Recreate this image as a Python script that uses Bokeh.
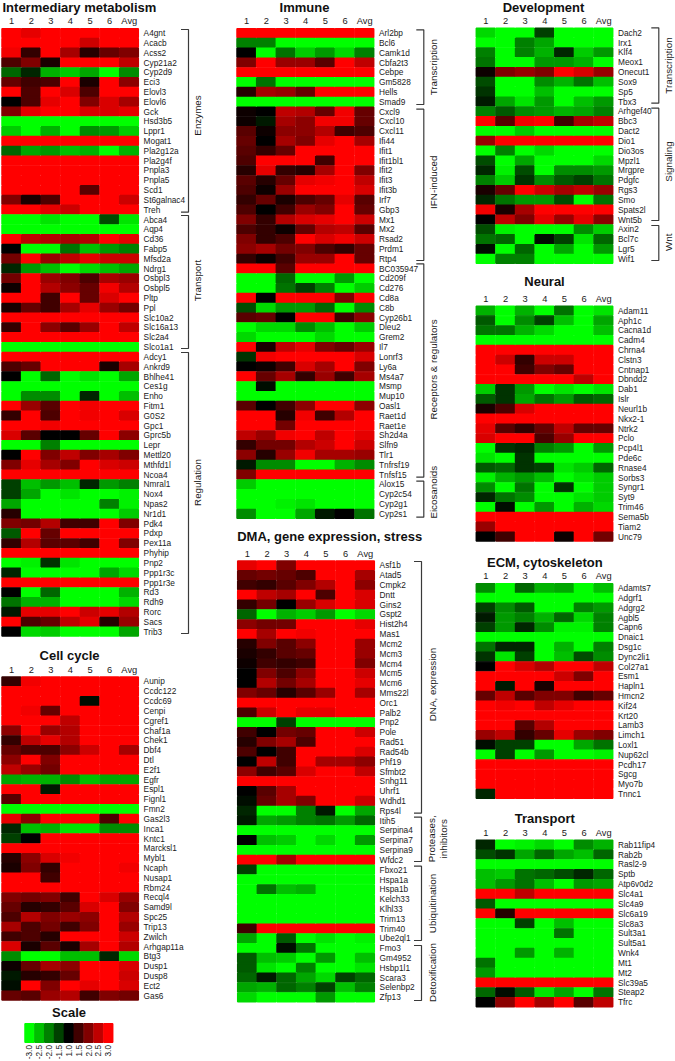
from bokeh.plotting import figure
from bokeh.embed import file_html
from bokeh.resources import INLINE
from bokeh.models import Range1d, ColumnDataSource, LinearColorMapper
from bokeh.core.properties import value
from bokeh.transform import transform
import math

columns = ["1", "2", "3", "4", "5", "6", "Avg"]

metabolism_genes = ["A4gnt","Acacb","Acss2","Cyp21a2","Cyp2d9","Eci3","Elovl3","Elovl6","Gck","Hsd3b5","Lppr1","Mogat1","Pla2g12a","Pla2g4f","Pnpla3","Pnpla5","Scd1","St6galnac4","Treh","Abca4","Aqp4","Cd36","Fabp5","Mfsd2a","Ndrg1","Osbpl3","Osbpl5","Pltp","Ppl","Slc10a2","Slc16a13","Slc2a4","Slco1a1","Adcy1","Ankrd9","Bhlhe41","Ces1g","Enho","Fitm1","G0S2","Gpc1","Gprc5b","Lepr","Mettl20","Mthfd1l","Ncoa4","Nmral1","Nox4","Npas2","Nr1d1","Pdk4","Pdxp","Pex11a","Phyhip","Pnp2","Ppp1r3c","Ppp1r3e","Rd3","Rdh9","Rorc","Sacs","Trib3"]
metabolism_values = [
[3,2.8,3,3,3,3,3],[3,3,3,3,2.6,3,3],[2.9,1.4,3,2.3,1.3,1.8,2.0],[1.6,2.0,1.2,3,3,3,2.5],[-1.8,-1.3,-2.4,-2.6,-2.3,-3,-2.1],
[1.8,1.5,1.6,3,1.2,3,2.1],[3,1.6,3,2.7,1.6,3,3],[1.0,1.6,2.8,3,2.0,2.7,2.3],[2.0,2.8,3,3,2.7,2.7,2.8],[-3,-3,-3,-3,-3,-3,-3],
[-2.6,-3,-2.4,-3,-2.1,-2.2,-2.6],[3,3,3,3,3,3,3],[-1.8,-2.3,-2.2,-2.5,-2.4,-3,-2.4],[3,3,3,3,3,3,3],[3,3,3,3,3,3,3],
[3,3,3,3,3,3,3],[3,3,3,3,1.7,3,3],[2.0,1.2,1.6,3,3,3,2.6],[3,3,2.8,2.6,3,3,3],[-3,-3,-2.8,-3,-3,-1.6,-2.8],
[-3,-3,-3,-3,-3,-3,-3],[3,2.5,2.4,2.3,2.4,3,2.8],[1.0,-3,-3,-1.9,-2.5,-2.2,-2.0],[1.9,3,2.2,2.5,2.8,2.6,2.6],[-1.3,-2.2,-2.5,-3,-2.7,-2.5,-2.3],
[1.9,3,2.2,2.0,1.6,2.3,2.2],[1.1,3,2.4,2.1,1.8,2.9,2.4],[3,3,1.5,3,1.8,2.7,3],[1.2,1.8,1.5,2.3,2.8,2.2,1.9],[3,3,3,3,3,3,3],
[1.4,3,2.1,1.7,2.2,3,2.5],[3,3,3,3,3,3,3],[-3,-3,-3,-3,-3,-3,-3],[3,3,3,3,3,3,3],[1.6,1.8,3,3,3,1.2,2.3],
[1.0,-3,-1.8,-3,-2.8,-3,-2.3],[-3,-3,-3,-3,-3,-3,-3],[-3,-2.1,-2.1,-3,-1.3,-3,-2.5],[3,2.2,1.7,3,2.9,3,3],[1.4,3,1.6,3,2.9,3,2.7],
[3,3,2.9,3,3,3,3],[2.7,1.7,1.0,1.0,1.8,3,2.1],[-3,-3,-2.0,-3,-3,-3,-3],[1,3,2,2.5,2,2.3,2],[2,2.8,2.3,2,3,2.7,2.6],
[3,3,3,3,3,3,3],[-1.5,-2.5,-2.2,-2.5,-1.3,-2.2,-2],[-1.5,-2.3,-3,-2.8,-3,-3,-2.9],[-2.3,-3,-3,-3,-3,-2,-2.9],[1.3,-3,-3,-3,-3,-3,-2.6],
[2,1.9,2.4,1.5,1.5,3,2],[-1.7,3,1.8,3,3,3,3],[1.4,2.4,1.7,1.7,1.5,3,2],[3,3,3,3,3,3,3],[-3,-2.9,-1.4,-2.8,-3,-3,-3],
[-1.3,-3,-3,-3,-3,-2.3,-2.7],[3,3,3,3,3,3,3],[1,-3,-1.8,-3,-3,-3,-2.4],[-1.9,-2.4,-2.4,-3,-3,-3,-2.7],[-1.2,2.8,2.8,3,2.6,2.8,2.4],
[3,1.6,1.8,2.5,2.8,1.3,2.2],[1,-2.7,-2.6,-3,-3,-3,-2.3],
]

cycle_genes = ["Aunip","Ccdc122","Ccdc69","Cenpi","Cgref1","Chaf1a","Chek1","Dbf4","Dtl","E2f1","Egfr","Espl1","Fignl1","Fmn2","Gas2l3","Inca1","Kntc1","Marcksl1","Mybl1","Ncaph","Nusap1","Rbm24","Recql4","Samd9l","Spc25","Trip13","Zwilch","Arhgap11a","Btg3","Dusp1","Dusp8","Ect2","Gas6"]
cycle_values = [
[1.4,2.9,3,3,3,3,3],[3,3,3,3,3,3,3],[3,3,3,3,-1.1,3,3],[3,2.9,1.8,3,3,3,3],[3,3,3,2.5,3,3,3],
[2.1,3,2.2,2.4,3,3,3],[1.4,2.5,2.8,2.4,3,3,3],[1.8,1.6,1.6,2.1,2.6,3,2.3],[2.1,3,2.0,3,3,3,3],[2.5,2.2,1.9,3,3,3,3],
[-2.3,-2.4,-2.4,-2.1,-2.5,-2.3,-2.3],[3,3,-1.2,3,3,3,3],[1.7,3,3,3,3,3,3],[-3,-3,-3,-3,-3,-3,-3],[2.8,2.1,3,3,3,1.6,3],
[-1.3,-2.5,-2.4,-2.8,-2.8,-2.1,-2.1],[-1.5,1,3,3,3,3,3],[3,3,3,3,3,3,3],[1.3,2.1,2.7,2.9,3,3,3],[1.2,2.0,1.4,3,3,3,2.9],
[3,3,1.5,3,3,3,3],[3,3,3,3,3,3,3],[2,1.9,2,1.5,3,2.7,2.2],[1.8,1.3,1.4,1.7,2.7,3,2],[1.6,2.4,2,2.2,2.1,3,2.4],
[2.3,1.6,1.9,1.5,2,3,2.2],[1.5,1.6,1.3,3,3,3,2.6],[2.7,1.2,1.7,1.2,2.3,3,2.4],[-2.1,-3,-3,-2.5,-2.5,-1.3,-2.7],[1.1,1.8,2.3,2.1,3,3,2.7],
[-1.2,1.3,1.4,1.8,3,3,2.6],[-1.1,3,2,3,2.8,3,2.7],[1.8,1.7,2.2,2.4,1.5,2,1.9],
]

immune_genes = ["Arl2bp","Bcl6","Camk1d","Cbfa2t3","Cebpe","Gm5828","Hells","Smad9","Cxcl9","Cxcl10","Cxcl11","Ifi44","Ifit1","Ifit1bl1","Ifit2","Ifit3","Ifit3b","Irf7","Gbp3","Mx1","Mx2","Rsad2","Prdm1","Rtp4","BC035947","Cd209f","Cd276","Cd8a","C8b","Cyp26b1","Dleu2","Grem2","Il7","Lonrf3","Ly6a","Ms4a7","Msmp","Mup10","Oasl1","Raet1d","Raet1e","Sh2d4a","Slfn9","Tlr1","Tnfrsf19","Tnfsf15","Alox15","Cyp2c54","Cyp2g1","Cyp2s1"]
immune_values = [
[3,3,3,3,3,3,3],[-2,-2,-3,-3,-3,-3,-3],[1,-3,-1.9,-2.6,-2.2,-2.7,-2],[2,3,2.2,2.2,1.7,3,2.5],[3,3,3,3,3,3,3],
[-3,-1.9,-3,-3,-3,-3,-3],[1.3,2.3,2.2,1.8,3,3,3],[-3,-3,-3,-3,-3,-3,-3],[1.1,1,2.5,2.4,1.8,2.9,1.8],[1.1,-1.2,2.3,2.1,2.9,2.9,1.8],
[1.7,1.1,2.1,2.1,2.4,1.5,1.6],[1.8,1,2.3,2,2.8,3,2.3],[1.7,1.4,1.8,3,3,3,3],[1.6,3,3,3,1.5,3,3],[1.3,2.8,1.4,1.3,2.3,3,2],
[1.7,1.3,1.8,2.8,2.9,3,2.5],[1.6,1.1,2.2,3,3,3,2.7],[1.4,1.8,1.2,1.6,1.8,2.8,1.7],[1.6,1,1.5,2.2,2,3,1.8],[2,1.4,2.4,2.7,2.8,3,2.6],
[1.6,1.4,1.1,1.8,2.4,2.5,1.7],[2,1.4,1.6,3,2.7,2.9,2.6],[2.1,2.3,1.9,2,1.6,1.4,1.8],[1.4,1.1,1.5,2.2,2.2,3,1.8],[3,3,1.7,3,3,3,3],
[-3,-3,-1.8,-3,-3,-2.2,-3],[-3,-3,-1.9,-1.5,-2,-3,-2.6],[3,1,3,3,3,2.0,3],[-1.6,-2.7,-2.2,-2.2,-1.8,-3,-2.1],[1.7,1.8,1,3,3,1.5,2.1],
[-3,-2.7,-2.7,-2.1,-2.5,-3,-2.6],[-2.7,-3,-3,-3,-2.7,-3,-3],[3,1.2,2.5,2.8,2,1.8,2.2],[-1.4,2.9,3,3,3,3,2.7],[1,1.1,1.5,2.7,2.3,3,2],
[3,1.8,2.3,1.4,2.2,1.5,2.3],[-3,-1.1,-3,-3,-3,-3,-3],[-3,-3,-3,-3,-3,-3,-3],[1.7,1,1.5,2.1,3,3,2.1],[3,3,1.3,2.9,1.5,2.4,3],
[3,3,1.9,3,3,3,3],[2.5,2.2,2.9,3,2.5,3,2.8],[1.4,1.9,1.9,2.4,2.6,3,2.6],[2.1,1.3,2.2,2.9,2.3,2.3,2.2],[-1.2,-2.1,-2.1,-3,-3,-2.4,-2.1],
[2,3,3,3,3,3,3],[-2.6,-3,-3,-3,-3,-3,-3],[-3,-3,-3,-3,-3,-3,-3],[-3,-3,-2.9,-2.8,-3,-3,-3],[-2.1,-3,-3,-2.3,-1.2,-1,-1.9],
]

stress_genes = ["Asf1b","Atad5","Cmpk2","Dntt","Gins2","Gspt2","Hist2h4","Mas1","Mcm2","Mcm3","Mcm4","Mcm5","Mcm6","Mms22l","Orc1","Palb2","Pnp2","Pole","Rad51","Rad54b","Phf19","Sfmbt2","Snhg11","Uhrf1","Wdhd1","Rps4l","Itih5","Serpina4","Serpina7","Serpina9","Wfdc2","Fbxo21","Hspa1a","Hspa1b","Kelch33","Klhl33","Trim13","Trim40","Ube2ql1","Fmo3","Gm4952","Hsbp1l1","Scara3","Selenbp2","Zfp13"]
stress_values = [
[2.8,3,2,3,3,3,3],[1.8,1.9,1.8,1.6,3,3,2.3],[1.5,1.4,1.7,2,2.4,3,2.1],[3,2.5,2.3,3,1.6,3,2.7],[1.4,1.9,1,2.2,2.7,3,2.7],
[-1.8,-3,-2.4,-2.6,-2.2,-3,-2.7],[2.1,1.9,1.9,3,3,3,2.8],[3,2.3,3,2.9,3,3,3],[1.3,2,1.7,2.1,3,3,2.2],[1.2,1.4,1.7,1.8,3,3,2.2],
[1.1,1.5,1.4,1.5,3,3,2],[1,2,1.6,2.1,3,3,2.6],[1,2.4,1.9,2.3,3,3,2.8],[2,1.8,1.3,1.7,2.2,3,2.3],[3,3,3,3,3,3,3],
[1.6,2.6,3,2.8,2.8,3,3],[-3,-3,-1.5,-3,-3,-3,-3],[1.5,1,1.9,1.8,3,3,2.6],[1.3,2,2.3,1.6,3,3,3],[1.6,-1.0,1.5,3,3,3,2.7],
[1,2.5,1.5,3,2.3,2.3,2.1],[2.1,1.5,1.7,2.7,3,3,2.5],[3,3,3,3,3,3,3],[1,1.7,2.3,3,3,3,3],[-1.1,1.8,2.3,2,3,3,2.6],
[-1.3,-3,-3,-2,-1.2,-3,-2.3],[-1.2,-2.3,-2.2,-2,-1.9,-2.2,-1.8],[-3,-3,-3,-3,-3,-3,-3],[-1,-2.5,-2.6,-3,-2.7,-3,-2.2],[-3,-3,-3,-3,-3,-3,-3],
[3,3,2.3,3,3,3,3],[-1.5,-3,-3,-3,-3,-3,-3],[-3,-3,-3,-3,-3,-3,-3],[-3,-1.9,-2.5,-2.4,-3,-3,-3],[-3,-3,-3,-3,-3,-3,-3],
[-3,-3,-3,-3,-3,-3,-3],[-3,-3,-3,-3,-3,-3,-3],[1.5,3,3,3,3,3,3],[-2.3,-3,-1.7,-3,-2.8,-3,-2.9],[-3,-3,-1.1,-1.9,-3,-3,-3],
[-1.7,-2.5,-2.6,-3,-2.2,-3,-2.5],[-1.7,-2.8,-3,-2,-3,-3,-2.8],[-1.8,-1.2,-1.8,-2.3,-2.7,-1.5,-1.8],[-2.3,-2.4,-1.8,-2,-1.5,-2.5,-2],[-2.7,-3,-3,-3,-2.2,-3,-3],
]

development_genes = ["Dach2","Irx1","Klf4","Meox1","Onecut1","Sox9","Sp5","Tbx3","Arhgef40","Bbc3","Dact2","Dio1","Dio3os","Mpzl1","Mrgpre","Pdgfc","Rgs3","Smo","Spats2l","Wnt5b","Axin2","Bcl7c","Lgr5","Wif1"]
development_values = [
[-2.7,-3,-3,-1.5,-3,-3,-3],[-3,-3,-2,-2.3,-3,-3,-3],[-2,-3,-2,-2.4,-1.3,-2.6,-2.2],[-1.9,-3,-3,-2.2,-2.2,-2.4,-3],[1.1,2,2.2,2,3,2.7,2.2],
[-1.6,-3,-3,-2.1,-2.4,-1.9,-2.5],[-1.4,-3,-3,-2.5,-3,-3,-3],[-1.2,-2.3,-2.8,-2.2,-3,-2.5,-2.2],[-2,-1.7,-2.1,-2.2,-2.4,-2.3,-2],[3,1.7,2.9,3,1.5,2.3,2.5],
[-3,-3,-2.6,-3,-3,-3,-3],[2.2,3,3,3,3,3,3],[-3,-2,-3,-2.7,-3,-3,-3],[-1.6,-3,-2.3,-3,-3,-3,-2.7],[-1.3,-2.9,-1.6,-3,-2.1,-2.1,-2.2],
[-2,-2.6,-1.4,-2.1,-1.7,-1.5,-1.9],[1.2,1.8,3,2.6,2.3,2.5,2.2],[-1.3,-1.9,-2.2,-2.2,-1.6,-3,-1.9],[2.9,1.2,2.3,3,3,3,3],[1,2.5,2,2.8,2.2,2.8,2.1],
[-1.6,-2.9,-3,-3,-3,-2.1,-2.6],[-1.9,-1.8,-3,-1.1,-1.5,-2.8,-1.8],[-1.1,-3,-1.8,-3,-2.3,-3,-2.2],[-3,-2,-2,-3,-3,-3,-3],
]

neural_genes = ["Adam11","Aph1c","Cacna1d","Cadm4","Chrna4","Clstn3","Cntnap1","Dbndd2","Dab1","Islr","Neurl1b","Nkx2-1","Ntrk2","Pclo","Pcp4l1","Pde6c","Rnase4","Sorbs3","Syngr1","Syt9","Trim46","Sema5b","Tiam2","Unc79"]
neural_values = [
[-2.4,-3,-2.4,-3,-1.9,-3,-2.8],[-1.7,-3,-2.1,-1.5,-2.5,-3,-2.3],[-1.9,-1.9,-2.4,-2.7,-3,-3,-2.5],[-3,-3,-3,-3,-3,-3,-3],[3,3,3,3,3,3,3],
[3,2.6,1.4,2.6,2.6,3,3],[3,3,1.5,2,1.8,3,3],[3,3,3,3,3,2.5,3],[-2.6,-1.4,-2.2,-3,-2.8,-3,-2.8],[-1.7,-1.4,-2.3,-1.9,-2.2,-1.7,-1.8],
[1.2,1.6,2.7,3,3,3,3],[3,3,3,3,3,3,3],[2.8,1.7,1.4,1.8,2.5,1.8,1.8],[2.7,3,3,1.6,2.2,3,3],[-3,-1.4,-1.3,-2,-2.2,-3,-2.2],
[-2.8,-3,-1.4,-3,-3,-3,-3],[-1.7,-1.8,-1.4,-1.5,-2.8,-2.6,-1.8],[-2.9,-2.4,-2.2,-2.5,-3,-2.8,-2.6],[-2.1,-3,-1.9,-3,-1.4,-3,-2.6],[-1.3,-1.9,-2.1,-3,-3,-2.8,-2.6],
[-3,-1.1,-3,-2.2,-3,-2.4,-2.7],[3,3,3,3,3,3,3],[2.2,3,3,3,3,3,3],[1,1.5,3,3,1.1,3,1.9],
]

ecm_genes = ["Adamts7","Adgrf1","Adgrg2","Agbl5","Capn6","Dnaic1","Dsg1c","Dync2li1","Col27a1","Esm1","Hapln1","Hmcn2","Kif24","Krt20","Lamb3","Limch1","Loxl1","Nup62cl","Pcdh17","Sgcg","Myo7b","Tnnc1"]
ecm_values = [
[-2.1,-3,-1.8,-2.4,-2.3,-3,-2.5],[-3,-3,-3,-3,-3,-3,-3],[-1.5,-2.1,-1.7,-3,-3,-2,-2.2],[-1.2,-2.2,-2,-2.4,-1.8,-2.7,-2],[-1.5,-2.2,-1.3,-2.1,-2.9,-2.9,-2],
[-3,-3,-3,-3,-3,-3,-3],[-1.9,-1.3,-1.3,-3,-2.4,-3,-2],[-1.4,-2.8,-1.5,-3,-2.5,-1.6,-2.1],[1,3,2.7,2.4,3,3,2.5],[3,3,3,3,2.6,2,3],
[3,-1.2,3,1.2,3,3,3],[1.8,2.5,1.7,2,2,1.5,1.8],[3,2.9,3,2.5,2.8,3,3],[3,3,3,3,3,3,3],[3,3,1.7,2.4,3,3,3],
[2.2,2.5,1.4,1.8,2.8,2.2,2],[-1.1,-1.5,-1.5,-3,-3,-2.3,-1.9],[-3,-1.5,-3,-2.2,-3,-3,-2.9],[3,3,3,3,3,3,3],[3,3,3,3,3,3,3],
[3,3,3,3,3,3,3],[-1.3,3,3,3,3,3,3],
]

transport_genes = ["Rab11fip4","Rab2b","Rasl2-9","Sptb","Atp6v0d2","Slc4a1","Slc4a9","Slc6a19","Slc8a3","Sult3a1","Sult5a1","Wnk4","Mt1","Mt2","Slc39a5","Steap2","Tfrc"]
transport_values = [
[-1.3,-3,-2.9,-2.7,-3,-2.1,-2.4],[-1.6,-1.4,-2.3,-1.8,-2.3,-2.5,-1.8],[-3,-3,-3,-3,-3,-3,-3],[-2.5,-2.6,-1.9,-1.8,-1.6,-1.3,-1.8],[-2.5,-2.2,-1.9,-2.5,-3,-2.2,-2.3],
[3,3,2.5,3,3,3,3],[-1.7,-3,-3,-3,-3,-3,-3],[3,1.3,3,3,3,3,3],[-3,-3,-1.5,-3,-2.5,-3,-3],[-3,-3,-3,-3,-1.9,-3,-3],
[-3,-3,-3,-3,-3,-3,-3],[-3,-3,-2.2,-3,-2.4,-3,-3],[-1.9,-3,-3,-3,-3,-3,-3],[-2.2,-3,-3,-3,-3,-3,-3],[3,3,3,3,3,3,3],
[-1.8,-1.1,-1.7,-2.8,-2.3,-3,-1.9],[1,2.1,3,2.3,3,1.7,2.5],
]

scale_values = [-3.0, -2.5, -2.0, -1.5, 1.0, 1.5, 2.0, 2.5, 3.0]
scale_labels = ["-3.0", "-2.5", "-2.0", "-1.5", "1.0", "1.5", "2.0", "2.5", "3.0"]

# ---- layout (page pixels) -------------------------------------------------
# title, anchor, title x, title y, genes, values, left, right, top, bottom
PANELS = [
    ("Intermediary metabolism", "left", 2, 6.5, metabolism_genes, metabolism_values, 1, 138.3, 27.7, 636),
    ("Cell cycle", "center", 69, 655, cycle_genes, cycle_values, 1, 138.3, 676, 1000),
    ("Immune", "center", 304, 6.5, immune_genes, immune_values, 236, 373.7, 27.7, 518.3),
    ("DMA, gene expression, stress", "left", 236.7, 536, stress_genes, stress_values, 236.7, 374.3, 560, 1001.7),
    ("Development", "center", 543, 6.5, development_genes, development_values, 475.3, 612.7, 27.3, 263.3),
    ("Neural", "center", 544, 281.3, neural_genes, neural_values, 475.3, 612.7, 305.3, 541),
    ("ECM, cytoskeleton", "center", 544.3, 561.7, ecm_genes, ecm_values, 475.3, 612.7, 582.7, 798.3),
    ("Transport", "center", 544.3, 818.3, transport_genes, transport_values, 475.3, 612.7, 839.3, 1006.7),
]
# bracket x, top, bottom
BRACKETS = [
    (188, 29, 211.7), (188, 215, 348), (188, 352, 633),
    (423.3, 29.3, 104), (423.3, 108.7, 260), (423.3, 263.3, 476.7), (423.3, 480.7, 516.7),
    (421, 561, 812.7), (421, 816.7, 861), (421, 865.7, 940), (421, 945, 1000),
    (658.3, 27.3, 102.7), (658.3, 107.7, 220), (658.3, 225, 260),
]
# text, x, y
GROUP_LABELS = [
    ("Enzymes", 197, 115), ("Transport", 197, 280), ("Regulation", 197, 482),
    ("Transcription", 432.7, 66.7), ("IFN-induced", 432.7, 181.7), ("Receptors & regulators", 432.7, 369), ("Eicosanoids", 432.7, 491.7),
    ("DNA, expression", 431.7, 684), ("Proteases,", 431, 838.3), ("inhibitors", 442.7, 838.3), ("Ubiquitination", 431.7, 903), ("Detoxification", 431.7, 972),
    ("Transcription", 668.3, 65), ("Signaling", 668.3, 161), ("Wnt", 668.3, 241.7),
]
SCALE_BOX = (24, 112.7, 1022.7, 1042.3)
FONT = value("Liberation Sans")
INK = "#1a1a1a"


def shade(v):
    m = int(round(max(abs(v) - 1, 0) / 2 * 255))
    return f"#{m:02x}0000" if v > 0 else f"#00{m:02x}00"


palette = [shade(-3 + i * 0.025) for i in range(241)]
mapper = LinearColorMapper(palette=palette, low=-3, high=3)

p = figure(width=675, height=1061, x_range=Range1d(0, 675), y_range=Range1d(1061, 0),
           output_backend="svg", toolbar_location=None, min_border=0, outline_line_color=None)
p.axis.visible = False
p.grid.visible = False
p.background_fill_color = "white"

# A stroke of the cell's own colour closes the hairline seams between neighbours.
INSET = 0.5
cells = dict(l=[], r=[], t=[], b=[], v=[])
genes = dict(x=[], y=[], t=[])
heads = dict(x=[], y=[], t=[])
for title, anchor, tx, ty, names, rows, left, right, top, bottom in PANELS:
    cw = (right - left) / len(columns)
    rh = (bottom - top) / len(names)
    for j, (name, row) in enumerate(zip(names, rows)):
        genes["x"].append(right + 4.8)
        genes["y"].append(top + rh * (j + 0.5))
        genes["t"].append(name)
        for i, v in enumerate(row):
            cells["l"].append(left + cw * i + INSET)
            cells["r"].append(left + cw * (i + 1) - INSET)
            cells["t"].append(top + rh * j + INSET)
            cells["b"].append(top + rh * (j + 1) - INSET)
            cells["v"].append(v)
    for i, c in enumerate(columns):
        heads["x"].append(left + cw * (i + 0.5) + 0.3)
        heads["y"].append(top - 7)
        heads["t"].append(c)
    p.text([tx], [ty], text=[title], text_font=FONT, text_font_size="13px", text_font_style="bold",
           text_align=anchor, text_baseline="middle", text_color="#111111")

# scale legend
sl, sr, st, sb = SCALE_BOX
scw = (sr - sl) / len(scale_values)
for i, v in enumerate(scale_values):
    cells["l"].append(sl + scw * i + INSET)
    cells["r"].append(sl + scw * (i + 1) - INSET)
    cells["t"].append(st + INSET)
    cells["b"].append(sb - INSET)
    cells["v"].append(v)

fill = transform("v", mapper)
p.quad(left="l", right="r", top="t", bottom="b", source=ColumnDataSource(cells), fill_color=fill,
       line_color=fill, line_width=1.5)

p.text("x", "y", text="t", source=ColumnDataSource(genes), text_font=FONT, text_font_size="8.3px",
       text_align="left", text_baseline="middle", text_color=INK)
p.text("x", "y", text="t", source=ColumnDataSource(heads), text_font=FONT, text_font_size="9.3px",
       text_align="center", text_baseline="middle", text_color=INK)

p.text([68.5], [1011.7], text=["Scale"], text_font=FONT, text_font_size="13px", text_font_style="bold",
       text_align="center", text_baseline="middle", text_color="#111111")
p.text([sl + scw * (i + 0.5) for i in range(len(scale_labels))], [1044.5] * len(scale_labels), text=scale_labels,
       text_font=FONT, text_font_size="8.3px", text_align="right", text_baseline="middle",
       angle=math.pi / 2, text_color=INK)

# brackets
xs, ys = [], []
for bx, t, b in BRACKETS:
    xs.append([bx - 7.5, bx, bx, bx - 7.5])
    ys.append([t, t, b, b])
p.multi_line(xs, ys, line_color="#3a3a3a", line_width=1.2)

p.text([g[1] for g in GROUP_LABELS], [g[2] for g in GROUP_LABELS], text=[g[0] for g in GROUP_LABELS],
       text_font=FONT, text_font_size="9.8px", text_align="center", text_baseline="middle",
       angle=math.pi / 2, text_color=INK)

open("out.html", "w").write(file_html(p, INLINE))
